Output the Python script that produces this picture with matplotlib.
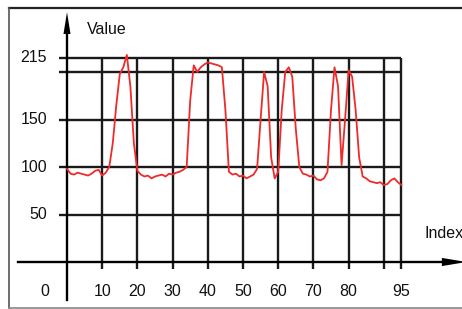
import matplotlib.pyplot as plt
from matplotlib.lines import Line2D

plt.rcParams["font.family"] = ["Liberation Sans", "DejaVu Sans"]

# series
values = [98, 93, 92, 94, 93, 92, 91, 93, 96, 97,
          91, 94, 100, 125, 165, 198, 205, 218, 185, 125,
          96, 92, 90, 91, 88, 90, 91, 92, 90, 93,
          92, 94, 95, 97, 100, 170, 207, 200, 205, 208,
          210, 209, 208, 207, 205, 160, 95, 92, 93, 90,
          91, 88, 90, 92, 98, 150, 200, 185, 110, 88,
          95, 160, 200, 205, 195, 140, 100, 93, 92, 90,
          91, 87, 86, 88, 95, 160, 205, 185, 102, 150,
          202, 195, 160, 110, 90, 88, 85, 84, 83, 84,
          81, 82, 86, 88, 84, 81]
index = list(range(len(values)))

y_ticks = [50, 100, 150, 215]
y_grid = [50, 100, 150, 200, 215]
x_ticks = [10, 20, 30, 40, 50, 60, 70, 80, 95]
x_grid = [10, 20, 30, 40, 50, 60, 70, 80, 90, 95]

W, H = 462, 309
fig = plt.figure(figsize=(W / 100, H / 100), dpi=100)
ax = fig.add_axes([0, 0, 1, 1])
ax.axis("off")

# pixel mapping: x_px = 67 + 3.52*i, y_px = 262 - 0.95*v
sx, ox = 3.52, 67
sy, oy = 0.95, 262
ax.set_xlim(-ox / sx, (W - ox) / sx)
ax.set_ylim((oy - H) / sy, oy / sy)

grid_col = "#1a1a1a"
ax.hlines(y_grid, -2.2, 95, color=grid_col, lw=1.7, zorder=1)
ax.vlines(x_grid, -7, 215, color=grid_col, lw=1.7, zorder=1)

# axes with arrows
ax.plot([0, 0], [-40, 245], color="black", lw=1.7, zorder=2)
ax.fill([-1.0, 0, 1.0], [240, 263, 240], color="black", lw=0, zorder=2)
ax.plot([-14, 108], [0, 0], color="black", lw=1.7, zorder=2)
ax.fill([106.5, 113.5, 106.5], [-4.3, 0, 4.3], color="black", lw=0, zorder=2,
        clip_on=False)

ax.plot(index, values, color="#ee2a2a", lw=1.3, zorder=3)

fs = 11.5
for v in y_ticks:
    ax.text(-5.7, v, str(v), ha="right", va="center", fontsize=fs, color="#111111")
for i in x_ticks:
    ax.text(i, -31.5, str(i), ha="center", va="center", fontsize=fs, color="#111111")
ax.text(-6.2, -31.5, "0", ha="center", va="center", fontsize=fs, color="#111111")
ax.text(5.7, 245, "Value", ha="left", va="center", fontsize=fs, color="#111111")
ax.text(101.5, 30.5, "Index", ha="left", va="center", fontsize=fs, color="#111111",
        clip_on=False)

# picture frame
fig.add_artist(Line2D([9 / W, 1], [1 - 7.5 / H, 1 - 7.5 / H], color="#222222", lw=1.6,
                      transform=fig.transFigure))
fig.add_artist(Line2D([9 / W, 9 / W], [1 - 7.5 / H, 1 - 307.5 / H], color="#555555", lw=1.2,
                      transform=fig.transFigure))
fig.add_artist(Line2D([9 / W, 1], [1 - 307.5 / H, 1 - 307.5 / H], color="#888888", lw=1.2,
                      transform=fig.transFigure))

fig.savefig("out.png", dpi=100)
